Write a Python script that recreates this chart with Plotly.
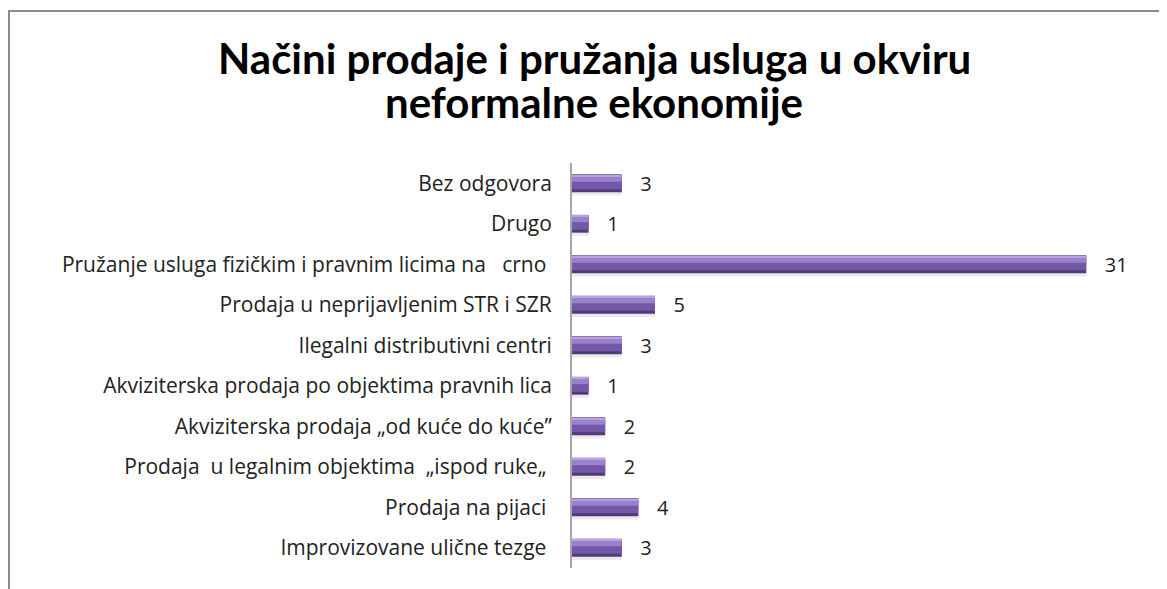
import plotly.graph_objects as go

# Data (bottom-to-top order)
categories = [
    "Improvizovane ulične tezge\u00a0",
    "Prodaja na pijaci\u00a0",
    "Prodaja  u legalnim objektima  „ispod ruke„\u00a0",
    "Akviziterska prodaja „od kuće do kuće”",
    "Akviziterska prodaja po objektima pravnih lica",
    "Ilegalni distributivni centri",
    "Prodaja u neprijavljenim STR i SZR",
    "Pružanje usluga fizičkim i pravnim licima na \u00a0 crno\u00a0",
    "Drugo",
    "Bez odgovora",
]
values = [3, 4, 2, 2, 1, 3, 5, 31, 1, 3]
title_lines = ["Načini prodaje i pružanja usluga u okviru", "neformalne ekonomije"]

# page has an 8px body margin; work in figure pixel coordinates
OFF = 8
W, H = 1167 - OFF, 589 - OFF
ML, MR, MT, MB = 572 - OFF, 31, 163 - OFF, 21

FONT = "Open Sans, Lato, sans-serif"

fig = go.Figure()
# shadow
fig.add_trace(go.Bar(y=categories, x=values, orientation="h", width=0.44, offset=-0.30,
                     marker=dict(color="rgba(0,0,0,0.08)", line=dict(width=0)),
                     hoverinfo="skip", showlegend=False))
# base (dark)
fig.add_trace(go.Bar(y=categories, x=values, orientation="h", width=0.44, offset=-0.22,
                     marker=dict(color="#503a78", line=dict(width=0)),
                     text=values, texttemplate="\u00a0\u00a0\u00a0%{x}", textposition="outside",
                     constraintext="none", cliponaxis=False,
                     textfont=dict(family=FONT, size=20, color="#222222"),
                     showlegend=False))
# main
fig.add_trace(go.Bar(y=categories, x=values, orientation="h", width=0.35, offset=-0.15,
                     marker=dict(color="#7457a6", line=dict(width=0)),
                     hoverinfo="skip", showlegend=False))
# light band
fig.add_trace(go.Bar(y=categories, x=values, orientation="h", width=0.14, offset=0.04,
                     marker=dict(color="#9b80cc", line=dict(width=0)),
                     hoverinfo="skip", showlegend=False))
# top edge
fig.add_trace(go.Bar(y=categories, x=values, orientation="h", width=0.04, offset=0.17,
                     marker=dict(color="#b8a2e2", line=dict(width=0)),
                     hoverinfo="skip", showlegend=False))

pw = W - ML - MR
ph = H - MT - MB
def px_to_paper_x(px):
    return (px - OFF - ML) / pw
def px_to_paper_y(py):
    return (H - MB - (py - OFF)) / ph

annotations = []
for line, yc in zip(title_lines, [58, 102]):
    annotations.append(dict(text="<b>" + line + "</b>", xref="paper", yref="paper",
                            x=px_to_paper_x(594), y=px_to_paper_y(yc),
                            xanchor="center", yanchor="middle", showarrow=False,
                            font=dict(family="Lato, sans-serif", size=42, color="#000000")))

fig.update_layout(
    width=W, height=H,
    margin=dict(l=ML, r=MR, t=MT, b=MB),
    paper_bgcolor="white", plot_bgcolor="white",
    barmode="overlay",
    annotations=annotations,
    xaxis=dict(range=[0, 34], visible=False, fixedrange=True),
    yaxis=dict(type="category", range=[-0.5, 9.5], showline=True, linecolor="#a6a6a6",
               linewidth=2, ticks="", showgrid=False, zeroline=False,
               tickfont=dict(family=FONT, size=21, color="#222222"),
               ticklabelstandoff=14, automargin=False),
    shapes=[
        dict(type="line", xref="paper", yref="paper",
             x0=px_to_paper_x(9), x1=px_to_paper_x(9),
             y0=px_to_paper_y(11), y1=px_to_paper_y(600),
             line=dict(color="#8c8c8c", width=2)),
        dict(type="line", xref="paper", yref="paper",
             x0=px_to_paper_x(8), x1=px_to_paper_x(1180),
             y0=px_to_paper_y(11), y1=px_to_paper_y(11),
             line=dict(color="#8c8c8c", width=2)),
    ],
)

fig.write_html("out.html")
